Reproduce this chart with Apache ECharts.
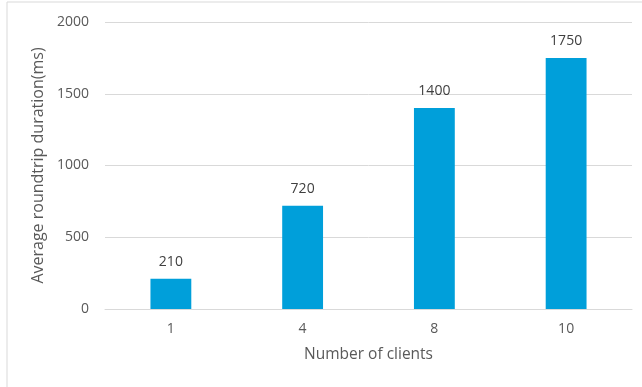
<!DOCTYPE html>
<html>
<head>
<meta charset="utf-8">
<script src="https://cdn.jsdelivr.net/npm/echarts@6/dist/echarts.min.js"></script>
<style>
  html, body { margin: 0; padding: 0; background: #fff; }
  #chart { width: 642px; height: 387px; }
</style>
</head>
<body>
<div id="chart"></div>
<script>
// Client counts on the x axis and the measured average roundtrip times
const clientCounts = ['1', '4', '8', '10'];
const roundtripMs = [210, 720, 1400, 1750];

const xAxisTitle = 'Number of clients';
const yAxisTitle = 'Average roundtrip duration(ms)';

const FONT = 'Open Sans';
const TEXT = '#595959';

const chart = echarts.init(document.getElementById('chart'), null, { renderer: 'canvas' });

chart.setOption({
  animation: false,
  backgroundColor: '#ffffff',
  textStyle: { fontFamily: FONT },
  graphic: [{
    type: 'rect',
    shape: { x: 7, y: 2, width: 700, height: 450 },
    style: { fill: 'none', stroke: '#d9d9d9', lineWidth: 1 },
    silent: true
  }],
  grid: { left: 105, right: 10, top: 22, bottom: 78 },
  xAxis: {
    type: 'category',
    data: clientCounts,
    name: xAxisTitle,
    nameLocation: 'middle',
    nameGap: 38,
    nameTextStyle: { color: TEXT, fontSize: 15.5, fontFamily: FONT },
    axisLine: { lineStyle: { color: '#d9d9d9', width: 1 } },
    axisTick: { show: false },
    axisLabel: { color: TEXT, fontSize: 14, margin: 13, fontFamily: FONT }
  },
  yAxis: {
    type: 'value',
    min: 0,
    max: 2000,
    interval: 500,
    name: yAxisTitle,
    nameLocation: 'middle',
    nameGap: 52,
    nameTextStyle: { color: TEXT, fontSize: 16, fontFamily: FONT },
    axisLine: { show: false },
    axisTick: { show: false },
    axisLabel: {
      color: TEXT,
      fontSize: 14,
      margin: 16,
      fontFamily: FONT,
      formatter: (v) => String(v)
    },
    splitLine: { lineStyle: { color: '#d9d9d9', width: 1 } }
  },
  series: [{
    type: 'bar',
    data: roundtripMs,
    barWidth: '31%',
    itemStyle: { color: '#009fda' },
    label: {
      show: true,
      position: 'top',
      distance: 10,
      color: '#404040',
      fontSize: 14,
      fontFamily: FONT
    }
  }]
});
</script>
</body>
</html>
